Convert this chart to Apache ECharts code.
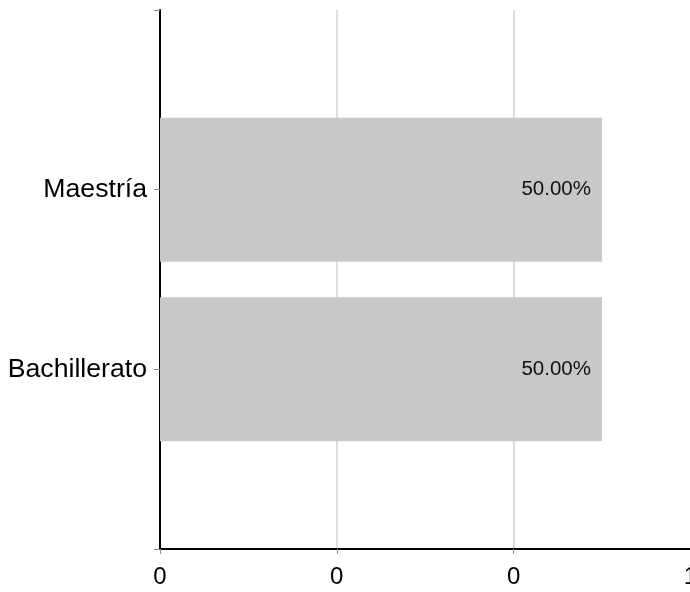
<!DOCTYPE html>
<html>
<head>
<meta charset="utf-8">
<script src="https://cdn.jsdelivr.net/npm/echarts@6/dist/echarts.min.js"></script>
<style>
html,body{margin:0;padding:0;background:#fff;overflow:hidden;width:690px;height:592px;}
#chart{width:700px;height:592px;}
</style>
</head>
<body>
<div id="chart"></div>
<script>
// Categories (bottom to top), padded with empty slots at the axis ends
const categories = ['', 'Bachillerato', 'Maestría', ''];
const values = [null, 0.5, 0.5, null];
const valueLabels = ['', '50.00%', '50.00%', ''];
const xTickLabels = ['0', '0', '0', '1'];

const chart = echarts.init(document.getElementById('chart'));
chart.setOption({
  animation: false,
  backgroundColor: '#ffffff',
  grid: { left: 160, top: 10, bottom: 43, right: 6.5, containLabel: false },
  xAxis: {
    type: 'value',
    min: 0,
    max: 0.6,
    interval: 0.2,
    axisLine: { show: true, lineStyle: { color: '#000', width: 2 } },
    axisTick: { show: true, length: 5, lineStyle: { color: '#999' } },
    axisLabel: {
      color: '#000', fontSize: 24, fontFamily: 'Liberation Sans, Arial, sans-serif',
      margin: 16,
      formatter: function (v, i) { return xTickLabels[i] !== undefined ? xTickLabels[i] : ''; }
    },
    splitLine: { show: true, lineStyle: { color: '#dddddd', width: 2 } }
  },
  yAxis: {
    type: 'category',
    data: categories,
    boundaryGap: false,
    axisLine: { show: true, lineStyle: { color: '#000', width: 2 } },
    axisTick: { show: true, length: 6, lineStyle: { color: '#888' } },
    axisLabel: { color: '#000', fontSize: 26.67, fontFamily: 'Liberation Sans, Arial, sans-serif', margin: 13 },
    splitLine: { show: false }
  },
  series: [{
    type: 'bar',
    data: values,
    barWidth: 144,
    itemStyle: { color: '#c8c8c8' },
    label: {
      show: true,
      position: 'insideRight',
      distance: 11,
      color: '#111',
      fontSize: 20.5,
      fontFamily: 'Liberation Sans, Arial, sans-serif',
      formatter: function (p) { return valueLabels[p.dataIndex]; }
    }
  }]
});
</script>
</body>
</html>
